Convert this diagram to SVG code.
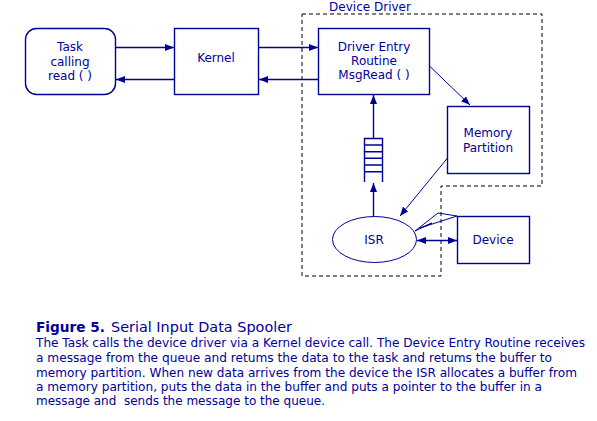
<svg xmlns="http://www.w3.org/2000/svg" width="597" height="421" viewBox="0 0 597 421">
<style>
.box{fill:#fff;stroke:#000099;stroke-width:1.4}
.t{font-family:"DejaVu Sans",Verdana,sans-serif;font-size:12px;fill:#000099;text-anchor:middle}
.c{font-family:"DejaVu Sans",Verdana,sans-serif;font-size:11.5px;fill:#000099}
.ln{stroke:#000099;stroke-width:1.4;fill:none}
.thin{stroke:#000099;stroke-width:1;fill:none}
</style>
<defs>
<marker id="ah" markerUnits="userSpaceOnUse" markerWidth="10" markerHeight="8" refX="9" refY="3.5" orient="auto-start-reverse">
<path d="M0,0 L9,3.5 L0,7 Z" fill="#000099"/>
</marker>
</defs>
<rect width="597" height="421" fill="#fff"/>
<g id="device-driver-boundary">
<path d="M302,14 H542 V186 H441 V276 H302 Z" fill="none" stroke="#000" stroke-width="1" stroke-dasharray="4,3"/>
<text class="t" x="370" y="11">Device Driver</text>
</g>
<g id="task">
<rect class="box" x="25.5" y="28.5" width="90" height="66" rx="11"/>
<text class="t" x="70" y="51">Task</text>
<text class="t" x="70" y="66">calling</text>
<text class="t" x="70" y="80">read ( )</text>
</g>
<g id="kernel">
<rect class="box" x="174.5" y="28.5" width="84" height="66"/>
<text class="t" x="216" y="62">Kernel</text>
</g>
<g id="driver">
<rect class="box" x="318.5" y="28.5" width="111" height="66"/>
<text class="t" x="374" y="51">Driver Entry</text>
<text class="t" x="374" y="65">Routine</text>
<text class="t" x="374" y="79">MsgRead ( )</text>
</g>
<g id="memory">
<rect class="box" x="447.5" y="106.5" width="82" height="67"/>
<text class="t" x="488" y="137">Memory</text>
<text class="t" x="488" y="152">Partition</text>
</g>
<g id="queue">
<path class="ln" d="M364.5,182 V138.5 H382.5 V182 M364.5,145 H382.5 M364.5,151.7 H382.5 M364.5,158.3 H382.5 M364.5,165 H382.5 M364.5,171.7 H382.5"/>
</g>
<g id="isr">
<ellipse cx="374.5" cy="239.5" rx="42" ry="23" fill="#fff" stroke="#000099" stroke-width="1"/>
<text class="t" x="374" y="244">ISR</text>
</g>
<g id="device">
<rect class="box" x="457.5" y="216.5" width="72" height="47"/>
<text class="t" x="493" y="244">Device</text>
</g>
<g id="connectors">
<line class="ln" x1="115.5" y1="47.5" x2="174" y2="47.5" marker-end="url(#ah)"/>
<line class="ln" x1="174.5" y1="79.5" x2="116" y2="79.5" marker-end="url(#ah)"/>
<line class="ln" x1="258.5" y1="47.5" x2="318" y2="47.5" marker-end="url(#ah)"/>
<line class="ln" x1="318.5" y1="79.5" x2="259" y2="79.5" marker-end="url(#ah)"/>
<line class="thin" x1="429.5" y1="66" x2="470" y2="105" marker-end="url(#ah)"/>
<line class="ln" x1="373.5" y1="138.5" x2="373.5" y2="95" marker-end="url(#ah)"/>
<line class="ln" x1="373.5" y1="216.5" x2="373.5" y2="183" marker-end="url(#ah)"/>
<line class="thin" x1="447.5" y1="158" x2="400" y2="216" marker-end="url(#ah)"/>
<line class="ln" x1="417" y1="240.5" x2="457" y2="240.5" marker-start="url(#ah)" marker-end="url(#ah)"/>
<path class="thin" d="M457,216 L438,213 L415,231 L432,223 L420,228 Z"/>
</g>
<g id="caption">
<text class="c" x="36" y="332" style="font-size:14px"><tspan font-weight="bold" textLength="69" lengthAdjust="spacingAndGlyphs">Figure 5.</tspan><tspan x="111" textLength="181" lengthAdjust="spacingAndGlyphs">Serial Input Data Spooler</tspan></text>
<text class="c" x="36" y="347" textLength="549" lengthAdjust="spacingAndGlyphs">The Task calls the device driver via a Kernel device call. The Device Entry Routine receives</text>
<text class="c" x="36" y="362" textLength="516" lengthAdjust="spacingAndGlyphs">a message from the queue and retums the data to the task and retums the buffer to</text>
<text class="c" x="36" y="377" textLength="541" lengthAdjust="spacingAndGlyphs">memory partition. When new data arrives from the device the ISR allocates a buffer from</text>
<text class="c" x="36" y="391" textLength="506" lengthAdjust="spacingAndGlyphs">a memory partition, puts the data in the buffer and puts a pointer to the buffer in a</text>
<text class="c" x="36" y="405" textLength="289" lengthAdjust="spacingAndGlyphs" xml:space="preserve">message and  sends the message to the queue.</text>
</g>
</svg>
